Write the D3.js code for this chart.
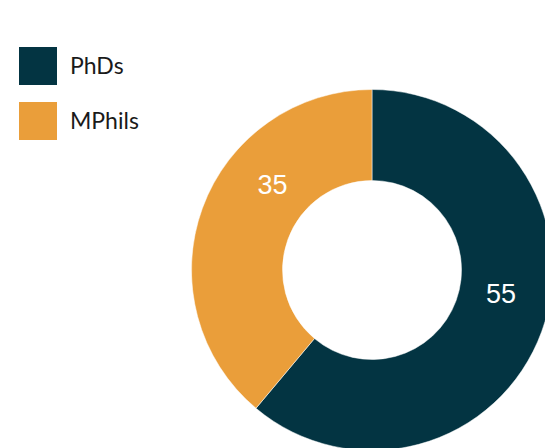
<!DOCTYPE html>
<html>
<head>
<meta charset="utf-8">
<script src="https://cdn.jsdelivr.net/npm/d3@7"></script>
<style>
  html, body { margin: 0; padding: 0; background: #fff; }
  svg { display: block; }
  .legend text { font-family: Lato, "Open Sans", sans-serif; font-size: 23px; fill: #1a1a1a; }
  .label { font-family: "Liberation Sans", Arial, sans-serif; font-size: 27px; fill: #fff; }
</style>
</head>
<body>
<svg id="chart" width="545" height="448"></svg>
<script>
var categories = ["PhDs", "MPhils"];
var values = [55, 35];
var colors = ["#033442", "#EA9E3A"];

var svg = d3.select("#chart"),
    width = +svg.attr("width"),
    height = +svg.attr("height");

var cx = 372, cy = 270,
    outerR = 180.5, innerR = 89.5;

var pie = d3.pie()
    .sort(null)
    .value(function (d) { return d; });

var arc = d3.arc()
    .innerRadius(innerR)
    .outerRadius(outerR);

var arcs = pie(values);

var g = svg.append("g")
    .attr("transform", "translate(" + cx + "," + cy + ")");

g.selectAll("path")
    .data(arcs)
    .enter().append("path")
    .attr("d", arc)
    .attr("fill", function (d, i) { return colors[i]; })
    .attr("stroke", "#fff")
    .attr("stroke-width", 0.5);

// labels sit a bit off the slice middle, like the original
var labelShift = [-0.17, 0.36];
var labelR = 131;
g.selectAll("text.label")
    .data(arcs)
    .enter().append("text")
    .attr("class", "label")
    .attr("text-anchor", "middle")
    .attr("dy", "0.35em")
    .attr("transform", function (d, i) {
        var a = (d.startAngle + d.endAngle) / 2 + labelShift[i];
        return "translate(" + (Math.sin(a) * labelR) + "," + (-Math.cos(a) * labelR) + ")";
    })
    .text(function (d) { return d.data; });

// legend
var legend = svg.append("g")
    .attr("class", "legend")
    .attr("transform", "translate(19,47)");

var item = legend.selectAll("g")
    .data(categories)
    .enter().append("g")
    .attr("transform", function (d, i) { return "translate(0," + (i * 55) + ")"; });

item.append("rect")
    .attr("width", 38)
    .attr("height", 38)
    .attr("fill", function (d, i) { return colors[i]; });

item.append("text")
    .attr("x", 51)
    .attr("y", 19)
    .attr("dy", "0.35em")
    .text(function (d) { return d; });
</script>
</body>
</html>
